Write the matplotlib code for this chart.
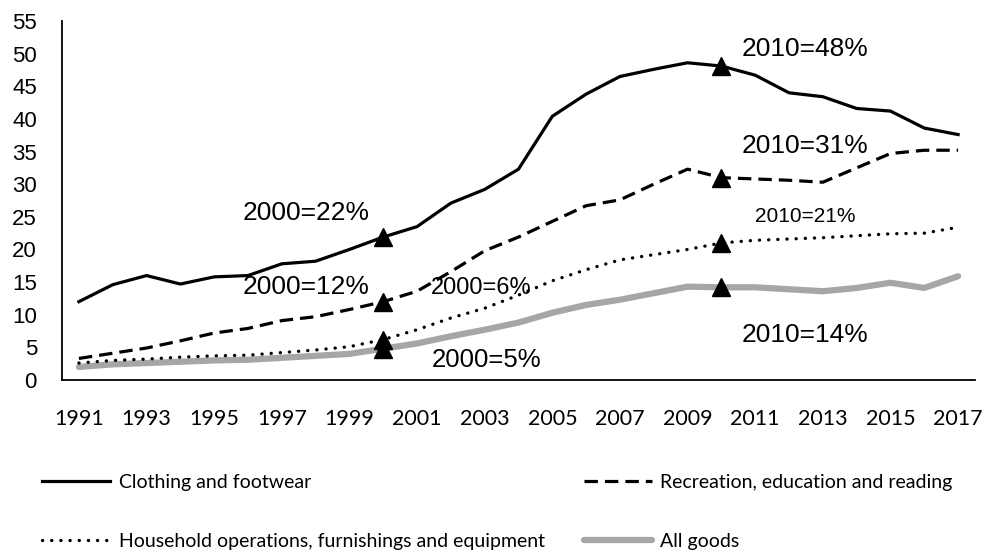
import matplotlib
matplotlib.use("Agg")
import matplotlib.pyplot as plt

years = list(range(1991, 2018))
clothing = [12.0, 14.6, 16.0, 14.7, 15.8, 16.0, 17.8, 18.2, 20.0, 21.9, 23.5, 27.1, 29.2,
            32.3, 40.4, 43.8, 46.5, 47.6, 48.6, 48.1, 46.7, 44.0, 43.4, 41.6, 41.2, 38.6, 37.6]
recreation = [3.3, 4.1, 4.9, 6.0, 7.2, 7.9, 9.1, 9.7, 10.8, 12.0, 13.6, 16.6, 19.8,
              21.9, 24.3, 26.7, 27.6, 30.0, 32.3, 31.0, 30.8, 30.6, 30.3, 32.5, 34.7, 35.2, 35.2]
household = [2.6, 3.0, 3.2, 3.5, 3.7, 3.8, 4.2, 4.6, 5.1, 6.2, 7.7, 9.5, 11.0,
             13.0, 15.2, 16.9, 18.4, 19.2, 20.0, 21.0, 21.4, 21.6, 21.8, 22.1, 22.4, 22.5, 23.4]
allgoods = [2.0, 2.4, 2.6, 2.8, 3.0, 3.1, 3.4, 3.7, 4.0, 4.8, 5.6, 6.7, 7.7,
            8.8, 10.3, 11.5, 12.3, 13.3, 14.3, 14.2, 14.2, 13.9, 13.6, 14.1, 14.9, 14.1, 15.9]
series_labels = ["Clothing and footwear", "Recreation, education and reading",
                 "Household operations, furnishings and equipment", "All goods"]
marker_years = [2000, 2010]
annotations = ["2000=22%", "2000=12%", "2000=6%", "2000=5%",
               "2010=48%", "2010=31%", "2010=21%", "2010=14%"]
xtick_labels = [str(y) for y in range(1991, 2018, 2)]
yticks = list(range(0, 56, 5))

fig = plt.figure(figsize=(9.87, 5.6), dpi=100)
ax = fig.add_axes([62/987, 1-380/560, (975-62)/987, (380-21)/560])

lw = 2.3
l_all, = ax.plot(years, allgoods, color="#a6a6a6", lw=4.5, solid_capstyle="round", zorder=2)
l_house, = ax.plot(years, household, color="black", lw=2.4, dashes=(0.05, 2.7),
                   dash_capstyle="round", zorder=3)
l_rec, = ax.plot(years, recreation, color="black", lw=lw, dashes=(4.2, 2.2), zorder=3)
l_clo, = ax.plot(years, clothing, color="black", lw=lw, zorder=3)

for s in [clothing, recreation, household, allgoods]:
    ys = [s[years.index(y)] for y in marker_years]
    ax.plot(marker_years, ys, linestyle="none", marker="^", ms=13, color="black", zorder=5)

ann_font = "Liberation Sans"
ann_pos = [(1995.83, 25.65, 19), (1995.83, 14.3, 19), (2001.42, 14.1, 17), (2001.42, 3.1, 18.5),
           (2010.6, 50.7, 19), (2010.6, 35.9, 19), (2010.99, 25.0, 15), (2010.6, 6.9, 19)]
for txt, (x, y, fs) in zip(annotations, ann_pos):
    ax.text(x, y, txt, ha="left", va="center", fontsize=fs, family=ann_font, zorder=6)

ax.set_xlim(1990.5, 2017.5)
ax.set_ylim(0, 55)
ax.set_xticks(list(range(1991, 2018, 2)))
ax.set_xticklabels(xtick_labels, family="Lato", fontsize=15.5)
ax.set_yticks(yticks)
ax.set_yticklabels([str(v) for v in yticks], family="Liberation Sans", fontsize=16)
ax.tick_params(axis="both", length=0)
ax.tick_params(axis="x", pad=21)
ax.tick_params(axis="y", pad=18)
for side in ["top", "right"]:
    ax.spines[side].set_visible(False)
for side in ["left", "bottom"]:
    ax.spines[side].set_linewidth(1.3)
    ax.spines[side].set_color("black")

handles = [l_clo, l_house, l_rec, l_all]
labels = [series_labels[0], series_labels[2], series_labels[1], series_labels[3]]
leg = fig.legend(handles, labels, loc="upper left", bbox_to_anchor=(42/987, 1-474/560),
                 ncol=2, frameon=False, prop={"family": "Lato", "size": 14},
                 handlelength=3.5, handletextpad=0.45, columnspacing=2.0,
                 labelspacing=2.15, borderpad=0, borderaxespad=0)

fig.savefig("out.png", dpi=100)
